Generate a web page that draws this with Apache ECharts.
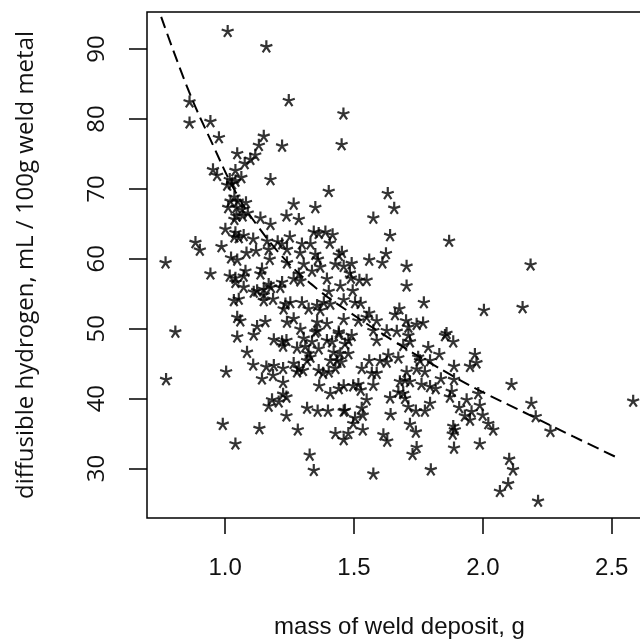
<!DOCTYPE html>
<html>
<head>
<meta charset="utf-8">
<script src="https://cdn.jsdelivr.net/npm/echarts@6/dist/echarts.min.js"></script>
<style>
  html, body { margin: 0; padding: 0; overflow: hidden; background: #fff; }
  #main { width: 660px; height: 644px; }
</style>
</head>
<body>
<div id="main"></div>
<script>
var chart = echarts.init(document.getElementById('main'));

// mass of weld deposit (g) and diffusible hydrogen (mL / 100g) per specimen
var massX = [
  1.010, 1.160, 1.247, 0.862, 0.862, 0.943, 0.976, 1.150, 1.131, 1.221, 1.047, 1.117, 1.098, 1.076, 0.953, 0.969, 1.040, 1.018, 1.063, 1.176,
  1.459, 1.452,
  1.040, 1.027, 1.008, 1.402, 1.036, 1.021, 1.049, 1.081, 1.012, 1.044, 1.066, 1.088, 1.044, 1.068, 1.036, 1.137, 1.176, 1.266,
  1.350, 1.238, 1.286, 1.001, 1.040, 1.036, 1.072, 1.053, 1.109, 1.251, 1.344, 1.363, 1.389, 1.417, 1.406, 0.885, 0.902, 0.986,
  1.163, 1.204, 1.221, 1.169, 1.240, 1.298, 1.331, 1.083, 1.120, 1.291, 1.350, 1.441, 1.453, 1.023, 1.047, 1.173, 1.240, 1.305,
  1.360, 1.369, 1.428, 1.460, 0.769, 0.943, 1.018, 1.040, 1.079, 1.072, 1.143, 1.137, 1.040, 1.072, 1.124, 1.150, 1.169, 1.178,
  1.221, 1.214, 1.266, 1.292, 1.286, 1.337, 1.395, 1.402, 1.447, 1.111, 1.150, 1.150, 1.186, 1.034, 1.053, 1.234, 1.253, 1.227,
  1.298, 1.324, 1.357, 1.369, 1.383, 1.408, 1.460, 1.047, 1.059, 1.156, 1.124, 1.240, 1.266, 1.292, 1.357, 1.395, 1.460, 0.807,
  1.357, 1.441,
  1.631, 1.656, 1.575, 1.640, 1.869, 1.624, 1.559, 1.610, 1.704, 2.185, 1.491, 1.484, 1.488, 1.521, 1.549, 1.704, 1.495, 1.504,
  1.526, 1.771, 1.676, 1.659, 1.559, 1.588, 1.549, 1.517, 1.702, 1.743, 1.768, 1.711, 2.004, 2.154, 1.575, 1.627, 1.666, 1.859,
  1.047, 1.111, 1.189, 1.221, 1.238, 1.225, 1.350, 1.305, 1.337, 1.279, 1.311, 1.363, 1.395, 1.415, 1.441, 1.085, 1.324, 1.331,
  1.318, 1.421, 1.447, 1.408, 1.434, 1.451, 1.109, 1.160, 1.189, 1.225, 1.266, 1.286, 1.302, 1.279, 1.363, 1.380, 1.402, 1.428,
  1.004, 0.771, 1.143, 1.186, 1.225, 1.365, 1.408, 1.441, 1.460, 1.225, 1.238, 1.182, 1.208, 1.169, 1.238, 1.318, 1.359, 1.399,
  1.460, 0.991, 1.133, 1.282, 1.428, 1.460, 1.040, 1.328, 1.344,
  1.491, 1.478, 1.588, 1.711, 1.717, 1.691, 1.853, 1.885, 1.788, 1.831, 1.969, 1.975, 1.950, 1.465, 1.478, 1.559, 1.601, 1.633,
  1.627, 1.672, 1.749, 1.756, 1.795, 1.530, 1.569, 1.588, 1.704, 1.743, 1.775, 1.888, 1.837, 1.888, 2.111, 1.497, 1.517, 1.526,
  1.575, 1.678, 1.698, 1.717, 1.762, 1.795, 1.817, 1.672, 1.691, 1.879, 1.982, 1.549, 1.640, 1.698, 1.872, 1.937, 2.188, 1.465,
  1.530, 1.711, 1.740, 1.775, 1.795, 1.908, 1.930, 1.956, 1.988, 2.205, 1.642, 1.504, 1.534, 1.950, 1.999, 2.021, 2.040, 1.497,
  1.478, 1.534, 1.717, 1.740, 1.614, 1.629, 1.885, 1.891, 1.883, 1.988, 1.743, 1.727, 1.888, 2.102, 2.117, 2.098, 2.066, 1.575,
  1.798, 2.214,
  2.262, 2.583
];
var hydrogenY = [
  92.6, 90.4, 82.7, 82.5, 79.5, 79.7, 77.4, 77.6, 76.3, 76.2, 75.1, 74.9, 74.3, 73.7, 72.8, 72.0, 72.7, 71.4, 71.7, 71.4,
  80.8, 76.4,
  71.2, 70.8, 70.6, 69.7, 68.9, 68.3, 68.3, 68.1, 67.4, 67.4, 67.1, 66.6, 66.2, 66.2, 65.7, 65.9, 65.0, 67.9,
  67.4, 66.2, 65.7, 64.3, 63.8, 63.2, 63.4, 63.1, 62.9, 63.2, 63.9, 63.7, 63.9, 63.5, 62.3, 62.4, 61.3, 61.8,
  62.6, 62.5, 62.2, 61.4, 61.4, 62.2, 62.2, 60.9, 61.2, 60.9, 60.7, 60.6, 61.0, 60.2, 59.9, 60.0, 59.5, 59.3,
  60.0, 58.9, 59.3, 59.0, 59.5, 57.9, 57.6, 57.3, 58.3, 57.6, 58.6, 57.9, 56.7, 56.0, 55.5, 55.7, 56.4, 56.0,
  56.7, 56.0, 57.2, 56.9, 57.9, 58.3, 57.2, 55.4, 56.2, 55.3, 54.9, 54.1, 54.3, 54.1, 54.3, 53.6, 53.8, 52.9,
  53.8, 52.9, 53.4, 52.7, 53.8, 53.6, 54.2, 51.7, 51.2, 51.1, 50.4, 51.0, 51.5, 50.0, 51.0, 50.8, 51.4, 49.6,
  49.8, 49.6,
  69.4, 67.3, 65.9, 63.4, 62.6, 60.8, 59.9, 59.5, 59.0, 59.2, 59.4, 58.0, 57.3, 57.0, 57.0, 56.2, 55.5, 53.8,
  53.7, 53.8, 52.9, 52.1, 52.3, 51.2, 51.7, 51.2, 51.2, 50.7, 50.9, 50.3, 52.7, 53.1, 49.8, 49.8, 49.7, 49.4,
  48.9, 49.2, 48.5, 48.2, 48.4, 47.6, 49.6, 48.7, 48.2, 47.3, 47.5, 47.2, 48.4, 48.2, 49.3, 46.7, 46.5, 46.0,
  45.5, 46.7, 46.5, 45.5, 45.5, 45.3, 44.9, 44.6, 44.8, 44.4, 45.1, 44.4, 44.1, 43.9, 44.1, 43.7, 43.9, 44.4,
  43.9, 42.8, 42.9, 43.4, 42.4, 41.9, 40.8, 41.5, 41.9, 40.7, 40.3, 39.9, 39.6, 39.0, 37.6, 38.7, 38.3, 38.3,
  38.3, 36.4, 35.8, 35.6, 35.1, 34.2, 33.6, 32.0, 29.8,
  49.1, 48.4, 48.4, 49.1, 48.2, 47.7, 49.1, 48.2, 47.4, 46.4, 46.4, 45.2, 44.7, 47.9, 46.5, 45.5, 45.5, 46.3,
  45.3, 45.9, 46.0, 45.5, 45.5, 44.4, 43.7, 43.7, 43.9, 44.3, 43.9, 44.7, 42.9, 42.8, 42.1, 41.9, 42.1, 41.3,
  42.0, 42.5, 42.7, 42.5, 42.1, 41.8, 41.5, 41.0, 40.8, 41.1, 40.8, 39.9, 40.2, 40.1, 40.3, 39.9, 39.4, 38.4,
  38.7, 38.9, 38.3, 38.3, 39.4, 38.8, 37.6, 38.2, 39.1, 37.5, 37.8, 37.3, 37.7, 37.0, 37.7, 36.5, 35.6, 36.5,
  35.1, 35.6, 36.4, 35.3, 34.9, 34.0, 36.1, 35.6, 35.0, 33.6, 33.1, 32.1, 33.0, 31.4, 29.9, 27.9, 26.8, 29.3,
  29.9, 25.4,
  35.4, 39.7
];

// fitted trend
var curveX = [0.752, 0.860, 0.950, 1.040, 1.124, 1.240, 1.360, 1.473, 1.647, 1.800, 1.980, 2.190, 2.350, 2.519];
var curveY = [94.6, 83.9, 76.5, 69.6, 64.8, 59.6, 55.6, 52.6, 48.4, 45.0, 41.3, 37.5, 34.6, 31.6];

var xTicks = [1.0, 1.5, 2.0, 2.5];
var yTicks = [30, 40, 50, 60, 70, 80, 90];

var points = massX.map(function (x, i) { return [x, hydrogenY[i]]; });
var curve = curveX.map(function (x, i) { return [x, curveY[i]]; });

var star = 'path://M0 0L0 -10M0 0L9.51 -3.09M0 0L5.88 8.09M0 0L-5.88 8.09M0 0L-9.51 -3.09';

var option = {
  animation: false,
  backgroundColor: '#fff',
  grid: {
    left: 147,
    top: 12,
    width: 505,
    height: 509,
    show: true,
    borderColor: '#000',
    borderWidth: 1.5,
    containLabel: false
  },
  xAxis: {
    type: 'value',
    min: 0.697,
    max: 2.656,
    name: 'mass of weld deposit, g',
    nameLocation: 'middle',
    nameGap: 97,
    nameTextStyle: { fontFamily: 'Liberation Sans', fontSize: 24, color: '#111' },
    axisLine: { show: false },
    splitLine: { show: false },
    axisTick: {
      customValues: xTicks,
      length: 16,
      lineStyle: { color: '#000', width: 1.5 }
    },
    axisLabel: {
      customValues: xTicks,
      margin: 38,
      fontFamily: 'Liberation Sans',
      fontSize: 24,
      color: '#111',
      formatter: function (v) { return v.toFixed(1); }
    }
  },
  yAxis: {
    type: 'value',
    min: 22.93,
    max: 95.3,
    name: 'diffusible hydrogen, mL / 100g weld metal',
    nameLocation: 'middle',
    nameGap: 109,
    nameTextStyle: { fontFamily: 'Open Sans', fontSize: 24, color: '#111' },
    axisLine: { show: false },
    splitLine: { show: false },
    axisTick: {
      customValues: yTicks,
      length: 18,
      lineStyle: { color: '#000', width: 1.5 }
    },
    axisLabel: {
      customValues: yTicks,
      rotate: 90,
      margin: 38,
      fontFamily: 'Open Sans',
      fontSize: 24,
      color: '#111'
    }
  },
  series: [
    {
      type: 'scatter',
      data: points,
      symbol: star,
      symbolSize: 12,
      itemStyle: { color: 'rgba(0,0,0,0)', borderColor: '#000', borderWidth: 2.2 },
      z: 3
    },
    {
      type: 'line',
      data: curve,
      smooth: 0.4,
      showSymbol: false,
      symbol: 'none',
      lineStyle: { color: '#000', width: 2, type: [12, 6] },
      z: 4
    }
  ]
};

chart.setOption(option);
</script>
</body>
</html>
